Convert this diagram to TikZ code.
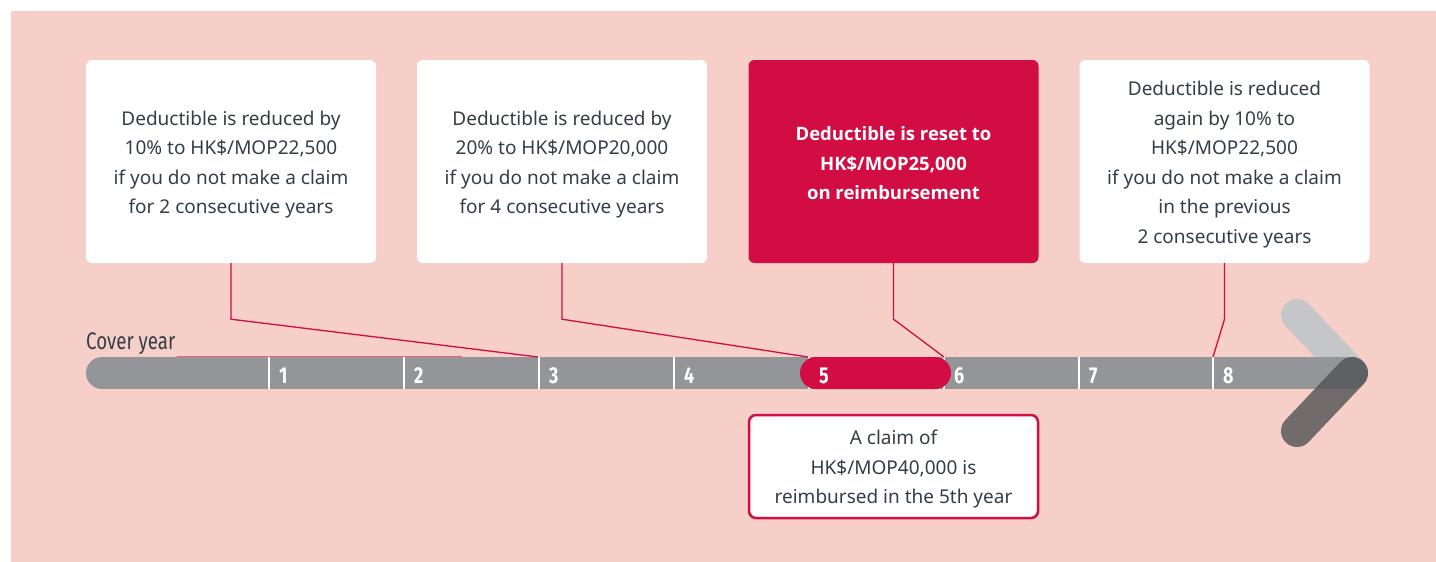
\documentclass[tikz,border=0pt]{standalone}
\usepackage{fontspec}
\setmainfont{Noto Sans}
\newfontfamily\boldface{Open Sans}
\newfontfamily\condfont[FakeStretch=0.78]{Fira Sans}
\definecolor{bgpink}{RGB}{245,207,200}
\definecolor{brandred}{RGB}{210,13,68}
\definecolor{textdark}{RGB}{52,62,72}
\definecolor{bargray}{RGB}{147,149,152}
\definecolor{arrowlight}{RGB}{196,198,200}
\definecolor{arrowdark}{RGB}{82,83,86}
\definecolor{thinpink}{RGB}{232,100,125}
\tikzset{
  infobox/.style={fill=white, rounded corners=6pt, minimum width=290pt, minimum height=203pt, inner sep=0pt},
  redbox/.style={infobox, fill=brandred},
  claimbox/.style={fill=white, draw=brandred, line width=2.5pt, rounded corners=7pt,
    minimum width=289pt, minimum height=103pt, inner sep=0pt},
  boxtext/.style={align=center, inner sep=0pt, text=textdark, font=\fontsize{19}{29.5}\selectfont},
  boldtext/.style={align=center, inner sep=0pt, text=white, font=\boldface\bfseries\fontsize{18.5}{29.5}\selectfont},
  conn/.style={draw=brandred, line width=1.3pt},
  yearlbl/.style={anchor=base west, inner sep=0pt, text=white, font=\condfont\bfseries\fontsize{23}{23}\selectfont},
  tick/.style={draw=white, line width=1.5pt},
  barstroke/.style={line width=32pt, line cap=round}
}
\begin{document}
\begin{tikzpicture}[x=1pt,y=-1pt]
\useasboundingbox (0,0) rectangle (1436,562);
\fill[bgpink] (11,11) rectangle (1436,562);

% boxes
\node[infobox] (b1) at (231,161.5) {};
\node[infobox] (b2) at (562,161.5) {};
\node[redbox] (b3) at (893.5,161.5) {};
\node[infobox] (b4) at (1224.5,161.5) {};
\node[claimbox] (claim) at (893.5,466.5) {};
\node[boxtext] (t1) at ([yshift=-3pt]b1.center) {Deductible is reduced by\\10\% to HK\$/MOP22,500\\if you do not make a claim\\for 2 consecutive years};
\node[boxtext] (t2) at ([yshift=-3pt]b2.center) {Deductible is reduced by\\20\% to HK\$/MOP20,000\\if you do not make a claim\\for 4 consecutive years};
\node[boldtext] (t3) at ([yshift=-2pt]b3.center) {Deductible is reset to\\HK\$/MOP25,000\\on reimbursement};
\node[boxtext] (t4) at ([yshift=-3pt]b4.center) {Deductible is reduced\\again by 10\% to\\HK\$/MOP22,500\\if you do not make a claim\\in the previous\\2 consecutive years};
\node[boxtext] (tc) at ([yshift=-3pt]claim.center) {A claim of\\HK\$/MOP40,000 is\\reimbursed in the 5th year};

% arrow head (light part under the bar)
\draw[barstroke, arrowlight] (1297,315) -- (1352,373);
% timeline bar
\draw[barstroke, bargray] (102,373) -- (1352,373);
% ticks
\foreach \x in {269,404,539,674,809,944,1079,1213} \draw[tick] (\x,357) -- (\x,389);
% highlighted year 5
\fill[brandred, rounded corners=16pt] (800,357) rectangle (951,389);
% year labels
\foreach \x/\n in {269/1,404/2,539/3,674/4,809/5,944/6,1079/7,1213/8}
  \node[yearlbl] (y\n) at (\x+10,383) {\n};
% arrow head (dark part over the bar)
\draw[barstroke, arrowdark, opacity=0.8] (1352,373) -- (1297,431);

% cover year label
\node[anchor=base west, inner sep=0pt, text=textdark, font=\condfont\fontsize{24}{24}\selectfont] (cy) at (86,349) {Cover year};
\draw[thinpink, line width=1pt] (177,356) -- (462,356);

% connector ends
\coordinate (e1) at (538,357);
\coordinate (e2) at (808,357);
\coordinate (e3) at (944,357);
\coordinate (e4) at (1213,357);
\draw[conn] (b1.south) -- ++(0,56) -- (e1);
\draw[conn] (b2.south) -- ++(0,56) -- (e2);
\draw[conn] (b3.south) -- ++(0,56) -- (e3);
\draw[conn] (b4.south) -- ++(0,56) -- (e4);
\end{tikzpicture}
\end{document}
